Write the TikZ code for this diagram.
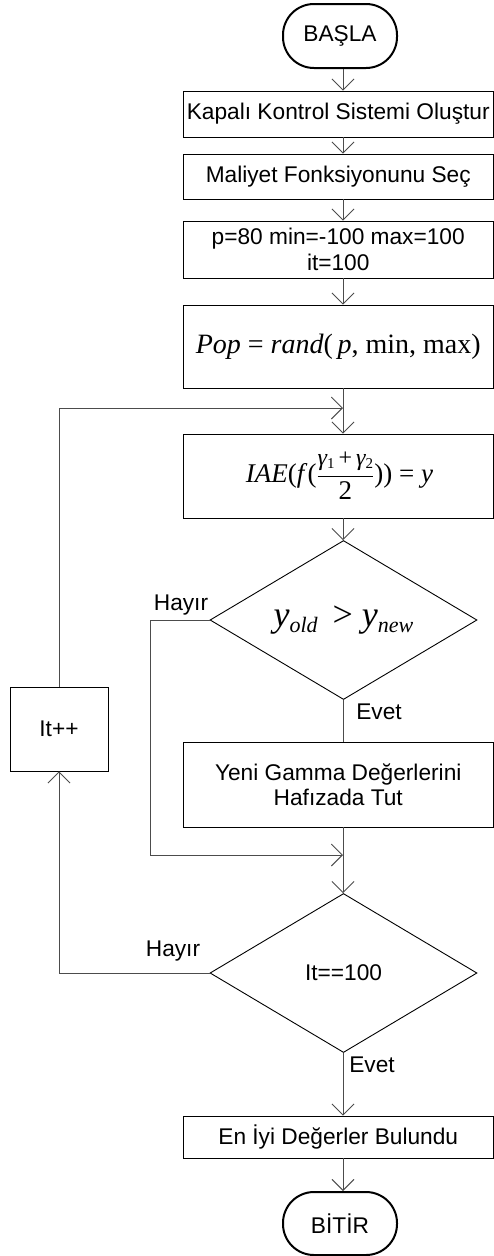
\documentclass[tikz,border=0pt]{standalone}
\usepackage{fontspec}
\usepackage{amsmath}
\setmainfont{Liberation Sans}
\newfontfamily\tms{Liberation Serif}
\usetikzlibrary{shapes.geometric,arrows.meta}
\begin{document}
\begin{tikzpicture}[x=1pt,y=-1pt,
  txt/.style={font=\fontsize{22.7}{25.5}\selectfont},
  box/.style={txt,draw=black,line width=0.9pt,rectangle,inner sep=0pt,align=center},
  term/.style={txt,draw=black,line width=2pt,rectangle,rounded corners=31pt,inner sep=0pt,minimum width=114pt},
  dec/.style={draw=black,line width=0.9pt,diamond,aspect=1.68,inner sep=0pt,minimum width=267pt,minimum height=159pt},
  conn/.style={draw=black!70,line width=0.9pt,-{Straight Barb[length=11pt,width=22pt,line width=0.9pt]}},
  line/.style={draw=black!70,line width=0.9pt},
  lbl/.style={txt,inner sep=0pt}
]
\useasboundingbox (0,0) rectangle (494,1256);

\node[term,minimum height=64pt] (start) at (340,36) {BAŞLA};
\node[box,minimum width=310.5pt,minimum height=46pt] (b1) at (338.25,114) {Kapalı Kontrol Sistemi Oluştur};
\node[box,minimum width=310.5pt,minimum height=45pt] (b2) at (338.25,176.5) {Maliyet Fonksiyonunu Seç};
\node[box,minimum width=310.5pt,minimum height=57pt] (b3) at (338.25,249.5) {p=80 min=-100 max=100\\it=100};
\node[box,minimum width=310.5pt,minimum height=83pt] (b4) at (338.25,346.5)
  {\tms\fontsize{28}{30}\selectfont\itshape Pop\/ \upshape= \itshape rand\upshape(\,\itshape p\upshape, min, max)};
\node[box,minimum width=310.5pt,minimum height=84pt] (b5) at (338.25,476)
  {\hspace*{2.5pt}\tms\fontsize{27}{28}\selectfont\itshape IAE\upshape(\itshape f\/\upshape($\genfrac{}{}{0.7pt}{0}{\text{\tms\fontsize{24}{25}\selectfont\itshape γ\upshape\raisebox{-3pt}{\fontsize{15}{16}\selectfont 1}\,+\,\itshape γ\upshape\raisebox{-3pt}{\fontsize{15}{16}\selectfont 2}}}{\text{\tms\fontsize{27}{28}\selectfont 2}}$)) = \itshape y};
\node[dec] (d1) at (343.5,620)
  {\tms\fontsize{36}{38}\selectfont\itshape y\raisebox{-6pt}{\fontsize{22}{24}\selectfont old}\upshape\ \,>\ \itshape y\raisebox{-6pt}{\fontsize{22}{24}\selectfont new}};
\node[box,minimum width=310.5pt,minimum height=85pt] (b6) at (338.25,784.5) {Yeni Gamma Değerlerini\\Hafızada Tut};
\node[box,minimum width=98pt,minimum height=84pt] (itpp) at (59,729) {It++};
\node[dec,txt] (d2) at (343.5,973) {It==100};
\node[box,minimum width=310.5pt,minimum height=42pt] (b7) at (338.25,1137) {En İyi Değerler Bulundu};
\node[term,minimum height=63pt] (stop) at (340,1223.5) {BİTİR};

\coordinate (ax) at (343,0);
\coordinate (j1) at (343,408);
\coordinate (j2) at (343,855);

\draw[conn] (start.south -| ax) -- (b1.north -| ax);
\draw[conn] (b1.south -| ax) -- (b2.north -| ax);
\draw[conn] (b2.south -| ax) -- (b3.north -| ax);
\draw[conn] (b3.south -| ax) -- (b4.north -| ax);
\draw[line] (b4.south -| ax) -- (j1);
\draw[conn] (j1) -- (b5.north -| ax);
\draw[conn] (b5.south -| ax) -- (d1.north -| ax);
\draw[line] (d1.south -| ax) -- (b6.north -| ax);
\draw[line] (b6.south -| ax) -- (j2);
\draw[conn] (j2) -- (d2.north -| ax);
\draw[conn] (d2.south -| ax) -- (b7.north -| ax);
\draw[conn] (b7.south -| ax) -- (stop.north -| ax);

\draw[conn] (d1.west) -- (150,620) -- (150,855) -- (j2);
\draw[conn] (d2.west) -- (itpp.south |- d2.west) -- (itpp.south);
\draw[conn] (itpp.north) -- (itpp.north |- j1) -- (j1);

\node[lbl] (h1) at (181,605) {Hayır};
\node[lbl] (e1) at (379,712) {Evet};
\node[lbl] (h2) at (173,951) {Hayır};
\node[lbl] (e2) at (372,1065) {Evet};
\end{tikzpicture}
\end{document}
